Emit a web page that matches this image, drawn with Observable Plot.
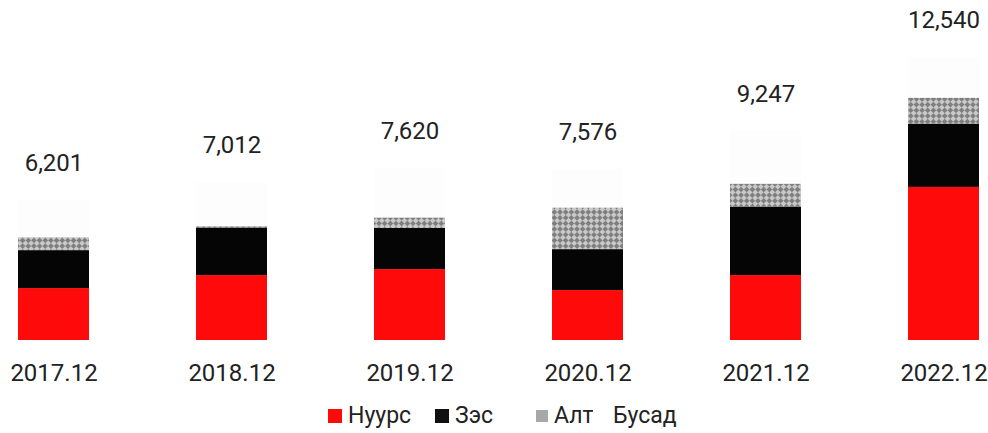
<!DOCTYPE html>
<html>
<head>
<meta charset="utf-8">
<script src="https://cdn.jsdelivr.net/npm/d3@7"></script>
<script src="https://cdn.jsdelivr.net/npm/@observablehq/plot@0.6"></script>
<style>
  html, body { margin: 0; padding: 0; background: #fff; overflow: hidden; }
  #chart { width: 988px; }
  #legend { position: relative; width: 988px; height: 38px; font-family: Roboto, sans-serif; font-size: 23px; color: #222; }
  .item { position: absolute; top: 9px; display: flex; align-items: center; line-height: 23px; }
  .sw { width: 14px; height: 14px; margin-right: 6px; display: inline-block; }
</style>
</head>
<body>
<div id="chart"></div>
<div id="legend"></div>
<script>
const categories = ["2017.12", "2018.12", "2019.12", "2020.12", "2021.12", "2022.12"];
const seriesNames = ["Нуурс", "Зэс", "Алт", "Бусад"];
const coal   = [2301, 2876, 3142, 2212, 2876, 6783];
const copper = [1681, 2111, 1828, 1814, 3022, 2806];
const gold   = [575, 66, 460, 1845, 1031, 1150];
const other  = [1644, 1959, 2190, 1705, 2318, 1801];
const totals = [6201, 7012, 7620, 7576, 9247, 12540];
const seriesColors = ["#ff0a0a", "#050505", "url(#altPattern)", "#fdfdfd"];

const seriesValues = [coal, copper, gold, other];
const data = [];
seriesNames.forEach((s, i) => {
  categories.forEach((c, j) => data.push({category: c, series: s, value: seriesValues[i][j]}));
});
const totalData = categories.map((c, j) => ({category: c, total: totals[j]}));

const plot = Plot.plot({
  width: 988,
  height: 395,
  marginLeft: 18,
  marginRight: 8,
  marginTop: 24,
  marginBottom: 55,
  style: {fontFamily: "Roboto, sans-serif", color: "#222", background: "#fff"},
  x: {domain: categories, paddingInner: 0.6, paddingOuter: 0, label: null},
  y: {domain: [0, 14000], axis: null},
  color: {domain: seriesNames, range: seriesColors},
  marks: [
    Plot.barY(data, {x: "category", y: "value", fill: "series", order: seriesNames}),
    Plot.text(totalData, {x: "category", y: "total", text: d => d3.format(",")(d.total), dy: -37, fontSize: 24, fill: "#222", lineAnchor: "middle"}),
    Plot.axisX({tickSize: 0, tickPadding: 23, fontSize: 24, fill: "#222", label: null})
  ]
});

const svg = d3.select(plot);
const defs = svg.insert("defs", ":first-child");
const pat = defs.append("pattern")
  .attr("id", "altPattern")
  .attr("patternUnits", "userSpaceOnUse")
  .attr("width", 8).attr("height", 8)
  .attr("patternTransform", "rotate(45)");
pat.append("rect").attr("width", 8).attr("height", 8).attr("fill", "#c9c9c9");
pat.append("rect").attr("width", 4).attr("height", 4).attr("fill", "#7f7f7f");
pat.append("rect").attr("x", 4).attr("y", 4).attr("width", 4).attr("height", 4).attr("fill", "#7f7f7f");

document.getElementById("chart").appendChild(plot);

const legendLefts = [328, 435, 536, 593];
const legendSwatch = ["#ff0a0a", "#111", "#a8a8a8", "#ffffff"];
const legendSize = [14, 14, 12, 14];
const legend = d3.select("#legend");
seriesNames.forEach((s, i) => {
  const it = legend.append("div").attr("class", "item").style("left", legendLefts[i] + "px");
  it.append("span").attr("class", "sw").style("background", legendSwatch[i])
    .style("width", legendSize[i] + "px").style("height", legendSize[i] + "px");
  it.append("span").text(s);
});
</script>
</body>
</html>
